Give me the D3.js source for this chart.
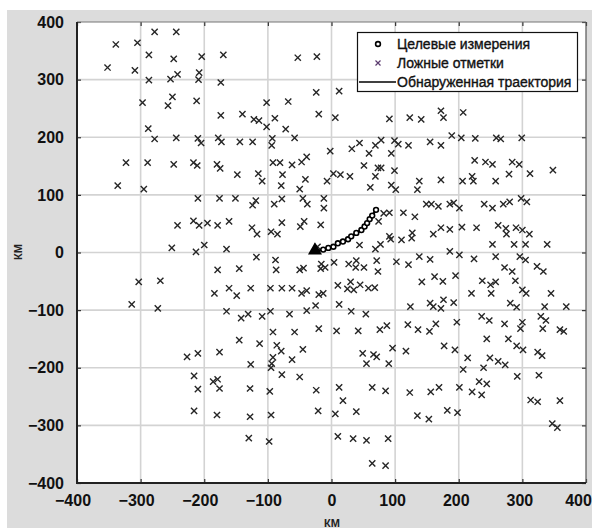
<!DOCTYPE html>
<html>
<head>
<meta charset="utf-8">
<script src="https://cdn.jsdelivr.net/npm/d3@7"></script>
<style>
  body { margin: 0; background: #fff; }
  svg { display: block; }
</style>
</head>
<body>
<svg id="chart" width="595" height="528"></svg>
<script>
// ложные отметки (км)
const falseMarks = [
  [-278,383],[-244,383],[-339,361],[-305,364],[-287,343],[-248,336],[-204,340],[-170,343],[-352,321],[-309,316],
  [-287,299],[-253,301],[-242,309],[-208,312],[-209,300],[-174,295],[-53,338],[-23,340],[-297,260],[-250,270],
  [-257,255],[-212,263],[-102,260],[-68,262],[-24,278],[-174,238],[-140,240],[-122,231],[-114,229],[-89,233],
  [-102,218],[-72,214],[-20,240],[6,234],[-288,215],[-278,197],[-244,199],[-210,198],[-205,190],[-178,199],
  [-173,192],[-144,192],[-124,192],[-93,198],[-94,186],[-58,199],[-2,176],[-323,156],[-289,156],[-248,153],
  [-217,156],[-211,151],[-180,153],[-175,146],[-148,135],[-115,137],[-92,156],[-81,156],[-62,152],[-47,157],
  [-39,166],[-77,135],[3,137],[-41,127],
  [-336,116],[-295,110],[-109,124],[-79,116],[-7,124],[-50,110],[-210,94],[-176,94],[-151,94],[-119,90],
  [-124,82],[-90,84],[-78,93],[-45,94],[-38,84],[-12,94],[-12,77],[-242,47],[-217,55],[-208,47],
  [-195,51],[-179,47],[-161,54],[-125,43],[-117,32],[-95,36],[-85,32],[-78,52],[-49,45],[-43,54],
  [-17,48],[-251,8],[-213,1],[-200,13],[-165,6],[-118,-8],[-88,-13],[-87,-30],[-179,-30],[-145,-28],
  [-50,-30],[-44,-27],[-16,-20],[-17,-28],[-10,-26],[-22,10],[-303,-51],[-269,-49],[-314,-90],[-273,-97],
  [-184,-71],[-161,-62],[-149,-75],[-127,-62],[-96,-62],[-78,-62],[-62,-62],[-47,-71],[-39,-66],[-20,-73],
  [-13,-71],[-165,-102],[-142,-114],[-131,-107],[-109,-111],[-96,-102],[-66,-107],[-39,-101],[-25,-92],[-92,-138],
  [-58,-138],[-20,-132],
  [-145,-152],[-113,-158],[-86,-161],[-79,-171],[-92,-182],[-45,-168],[-62,-186],[-227,-181],[-210,-175],[-176,-173],
  [-127,-194],[-94,-193],[-95,-200],[-216,-214],[-186,-224],[-179,-220],[-210,-237],[-176,-236],[-128,-236],[-97,-241],
  [-78,-212],[-50,-216],[-24,-239],[-216,-275],[-180,-282],[-128,-285],[-95,-282],[-21,-275],[-130,-322],[-98,-328],
  [12,280],[91,232],[123,234],[141,231],[172,246],[176,234],[207,243],[189,203],[204,199],[226,198],
  [259,199],[266,197],[299,199],[32,180],[44,190],[69,186],[78,195],[99,194],[105,188],[121,186],
  [155,192],[172,186],[59,172],[94,172],[51,151],[73,147],[78,147],[99,142],[14,135],[29,132],
  [69,132],[225,160],[242,157],[253,153],[284,157],[295,153],[279,136],[312,137],[348,143],[221,132],
  [61,113],[94,117],[101,109],[135,109],[138,124],[172,126],[206,124],[223,124],[258,124],[149,84],
  [157,84],[168,80],[186,84],[192,86],[201,77],[240,84],[253,77],[270,84],[280,88],[298,94],
  [307,88],[82,68],[91,69],[113,69],[131,62],[74,54],[172,43],[186,40],[160,32],[205,44],
  [228,43],[262,47],[274,42],[275,32],[290,43],[300,39],[311,32],[44,13],[77,14],[69,6],
  [91,28],[93,23],[110,22],[127,34],[126,25],[253,14],[287,14],[305,14],[339,14],
  [4,-17],[27,-20],[39,-14],[38,-26],[51,-26],[71,-14],[73,-33],[102,-16],[121,-21],[138,-7],
  [155,-12],[186,2],[201,-4],[224,-11],[258,-7],[296,-7],[305,-13],[272,-26],[284,-33],[323,-24],
  [333,-33],[10,-57],[25,-63],[30,-51],[35,-65],[45,-56],[58,-62],[68,-61],[142,-51],[162,-42],
  [175,-50],[195,-40],[237,-49],[250,-56],[258,-51],[289,-49],[220,-71],[251,-71],[300,-65],[306,-71],
  [345,-71],[12,-90],[31,-102],[54,-107],[124,-94],[155,-88],[160,-94],[172,-97],[176,-82],[192,-87],
  [281,-88],[291,-95],[335,-94],[369,-94],[8,-136],[42,-136],[76,-134],[87,-127],[120,-125],[136,-134],
  [154,-137],[164,-124],[197,-121],[236,-111],[248,-118],[272,-124],[300,-121],[297,-132],[329,-111],[337,-118],
  [332,-132],[359,-134],[365,-137],
  [244,-150],[278,-150],[291,-162],[301,-169],[324,-173],[331,-179],[177,-162],[194,-169],[96,-166],[117,-171],
  [49,-175],[66,-177],[71,-181],[55,-193],[90,-193],[214,-183],[249,-183],[262,-189],[273,-195],[207,-203],
  [239,-200],[292,-215],[326,-213],[12,-234],[64,-234],[85,-240],[18,-257],[39,-276],[6,-280],[123,-243],
  [156,-242],[169,-234],[201,-234],[221,-242],[236,-247],[232,-224],[244,-228],[135,-283],[153,-289],[182,-274],
  [198,-278],[313,-256],[324,-259],[359,-257],[347,-297],[355,-304],[10,-319],[34,-323],[55,-326],[89,-323],
  [64,-366],[85,-370]
];

// целевые измерения (км)
const targetX = [-26,-13,-5,3,10,18,26,31,39,47,52,56,60,64,70];
const targetY = [2,5,8,10,16,19,23,28,34,39,45,51,58,64,74];

const xTicks = [-400,-300,-200,-100,0,100,200,300,400];
const yTicks = [-400,-300,-200,-100,0,100,200,300,400];

const legendLabels = ["Целевые измерения", "Ложные отметки", "Обнаруженная траектория"];
const axisLabel = "КМ";

const svg = d3.select("#chart");
const box = {left: 77, right: 586, top: 22, bottom: 483};
const font = "'Liberation Sans', Arial, sans-serif";

const x = d3.scaleLinear().domain([-400, 400]).range([box.left, box.right]);
const y = d3.scaleLinear().domain([-400, 400]).range([box.bottom, box.top]);

// фон фигуры
svg.append("rect").attr("x", 7).attr("y", 10).attr("width", 585).attr("height", 518).attr("fill", "#dcdcdc");
svg.append("rect").attr("x", box.left).attr("y", box.top)
    .attr("width", box.right - box.left).attr("height", box.bottom - box.top).attr("fill", "#fff");

// сетка
const grid = svg.append("g").attr("stroke", "#d3d3d3").attr("stroke-width", 1.6);
grid.selectAll(".gx").data(xTicks.slice(1, -1)).join("line").attr("class", "gx")
    .attr("x1", d => x(d)).attr("x2", d => x(d)).attr("y1", box.top).attr("y2", box.bottom);
grid.selectAll(".gy").data(yTicks.slice(1, -1)).join("line").attr("class", "gy")
    .attr("y1", d => y(d)).attr("y2", d => y(d)).attr("x1", box.left).attr("x2", box.right);

// оси
const styleAxis = g => {
    g.select(".domain").remove();
    g.selectAll(".tick line").attr("stroke", "#333").attr("stroke-width", 1.2);
    g.selectAll(".tick text").attr("fill", "#111")
        .style("font-family", font)
        .style("font-size", "16px").style("font-weight", "bold");
};

svg.append("g").attr("transform", `translate(0,${box.bottom})`)
    .call(d3.axisBottom(x).tickValues(xTicks).tickSize(-4).tickPadding(12))
    .call(styleAxis)
    .call(g => g.selectAll(".tick text").attr("dx", d => d === 400 ? -8 : d < 0 ? -4.5 : (d > 0 ? -3 : 0)));
svg.append("g").attr("transform", `translate(0,${box.top})`)
    .call(d3.axisTop(x).tickValues(xTicks).tickSize(-4).tickFormat(""))
    .call(styleAxis);
svg.append("g").attr("transform", `translate(${box.left},0)`)
    .call(d3.axisLeft(y).tickValues(yTicks).tickSize(-4).tickPadding(13))
    .call(styleAxis);
svg.append("g").attr("transform", `translate(${box.right},0)`)
    .call(d3.axisRight(y).tickValues(yTicks).tickSize(-4).tickFormat(""))
    .call(styleAxis);

// рамка
svg.append("line").attr("x1", box.left).attr("x2", box.right).attr("y1", box.top).attr("y2", box.top)
    .attr("stroke", "#777").attr("stroke-width", 1);
svg.append("line").attr("x1", box.right).attr("x2", box.right).attr("y1", box.top).attr("y2", box.bottom)
    .attr("stroke", "#555").attr("stroke-width", 1.2);
svg.append("line").attr("x1", box.left).attr("x2", box.left).attr("y1", box.top).attr("y2", box.bottom + 1)
    .attr("stroke", "#222").attr("stroke-width", 2);
svg.append("line").attr("x1", box.left - 1).attr("x2", box.right).attr("y1", box.bottom).attr("y2", box.bottom)
    .attr("stroke", "#222").attr("stroke-width", 2);

// подписи осей
svg.append("text").attr("x", 332).attr("y", 527).attr("text-anchor", "middle")
    .style("font-family", font).style("font-size", "11px").style("font-weight", "bold")
    .attr("fill", "#222").text(axisLabel);
svg.append("text").attr("transform", "translate(22,252) rotate(-90)").attr("text-anchor", "middle")
    .style("font-family", font).style("font-size", "11px").style("font-weight", "bold")
    .attr("fill", "#222").text(axisLabel);

// крестики
const cross = s => `M${-s},${-s}L${s},${s}M${-s},${s}L${s},${-s}`;
svg.append("g").selectAll("path").data(falseMarks).join("path")
    .attr("transform", d => `translate(${x(d[0])},${y(d[1])})`)
    .attr("d", cross(3.1))
    .attr("fill", "none").attr("stroke", "#262626").attr("stroke-width", 1.4);

// траектория
const track = targetX.map((v, i) => [v, targetY[i]]);
svg.append("path").datum(track)
    .attr("d", d3.line().x(d => x(d[0])).y(d => y(d[1])).curve(d3.curveCatmullRom))
    .attr("fill", "none").attr("stroke", "#000").attr("stroke-width", 2.4);
svg.append("g").selectAll("circle").data(track.slice(1)).join("circle")
    .attr("cx", d => x(d[0])).attr("cy", d => y(d[1])).attr("r", 2.4)
    .attr("fill", "#fff").attr("stroke", "#000").attr("stroke-width", 1.6);
svg.append("path")
    .attr("transform", `translate(${x(track[0][0])},${y(track[0][1]) - 1})`)
    .attr("d", d3.symbol(d3.symbolTriangle, 85)())
    .attr("fill", "#000");

// легенда
const lg = svg.append("g");
lg.append("rect").attr("x", 357.5).attr("y", 32.5).attr("width", 220).attr("height", 59)
    .attr("fill", "#fff").attr("stroke", "#111").attr("stroke-width", 1.2);
const rowY = [44, 63, 82];
lg.selectAll("text").data(legendLabels).join("text")
    .attr("x", 397).attr("y", (d, i) => rowY[i] + 5)
    .style("font-family", font).style("font-size", "14px")
    .attr("fill", "#111").attr("stroke", "#111").attr("stroke-width", 0.35).text(d => d);
lg.append("circle").attr("cx", 378).attr("cy", rowY[0]).attr("r", 2.4)
    .attr("fill", "#fff").attr("stroke", "#000").attr("stroke-width", 1.6);
lg.append("path").attr("transform", `translate(378,${rowY[1]})`).attr("d", cross(2.5))
    .attr("fill", "none").attr("stroke", "#5a3a6e").attr("stroke-width", 1.2);
lg.append("line").attr("x1", 359).attr("x2", 396).attr("y1", rowY[2]).attr("y2", rowY[2])
    .attr("stroke", "#000").attr("stroke-width", 1.6);
</script>
</body>
</html>
